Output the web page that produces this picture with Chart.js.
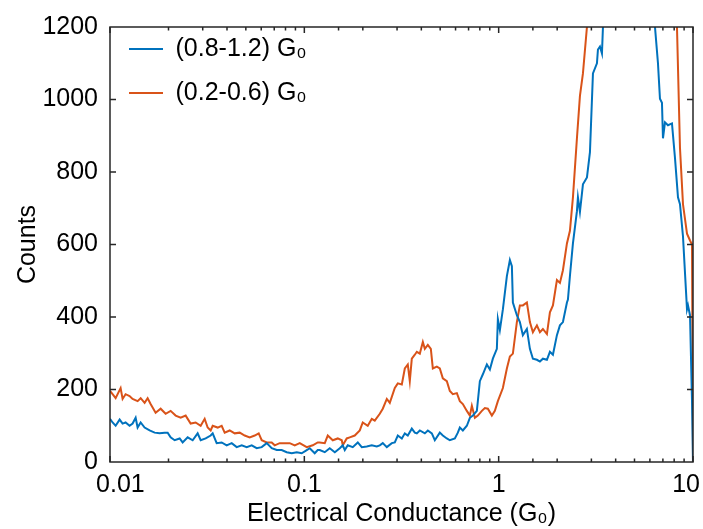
<!DOCTYPE html>
<html>
<head>
<meta charset="utf-8">
<script src="https://cdn.jsdelivr.net/npm/chart.js@4/dist/chart.umd.min.js"></script>
<style>
html,body{margin:0;padding:0;background:#fff;}
canvas{display:block;}
</style>
</head>
<body>
<canvas id="c" width="703" height="529"></canvas>
<script>
// Conductance (G0) and counts
const blueG = [0.01,0.01031,0.01069,0.01121,0.01161,0.01203,0.01261,0.01307,0.01355,0.01387,
0.01438,0.01507,0.01599,0.01697,0.018,0.0191,0.0198,0.02051,0.02151,0.02283,
0.02365,0.0251,0.02663,0.02825,0.02928,0.03107,0.03296,0.03376,0.03539,0.03755,
0.03985,0.04229,0.04487,0.04762,0.05052,0.0536,0.05687,0.06034,0.06404,0.06795,
0.0721,0.07647,0.08116,0.08614,0.09139,0.09697,0.1029,0.1066,0.1131,0.1172,
0.12,0.1274,0.1351,0.1435,0.1522,0.1577,0.1615,0.1673,0.1775,0.1884,
0.1975,0.2095,0.2224,0.2359,0.2445,0.2533,0.2657,0.2819,0.2921,0.3027,
0.3174,0.3289,0.3407,0.3573,0.3703,0.3792,0.3929,0.4169,0.432,0.4529,
0.4693,0.4979,0.516,0.5411,0.5607,0.595,0.6165,0.6313,0.6542,0.6859,
0.7109,0.7366,0.7723,0.8002,0.8293,0.8695,0.9011,0.9335,0.9788,0.9906,
1.0144,1.0511,1.1021,1.1421,1.1695,1.1835,1.2406,1.2857,1.3322,1.3969,
1.4478,1.5003,1.5731,1.6302,1.6892,1.7712,1.8354,1.9019,1.9941,2.0665,
2.1413,2.2453,2.2721,2.3265,2.4108,2.5278,2.5579,2.6195,2.7145,2.8463,
2.9493,3.0561,3.2042,3.2424,3.3202,3.4,3.4409,3.74,4.21,4.74,
5.33,6.0,6.373,6.603,6.761,6.923,7.006,7.174,7.434,7.795,
8.077,8.37,8.571,8.882,9.314,9.426,9.652,9.883,10.0];
const blueCounts = [119,109,100,117,106,109,100,106,122,95,
109,95,87,81,79,81,81,68,60,65,
54,68,60,79,60,65,73,79,52,54,
46,52,41,46,41,46,38,41,52,38,
33,33,27,24,27,24,33,38,24,33,
33,27,38,27,38,46,33,46,41,54,
41,43,46,43,46,52,41,52,54,73,
65,79,73,92,81,79,87,79,87,79,
60,81,73,65,60,65,81,95,87,100,
122,128,141,223,242,269,255,285,312,394,
364,421,513,557,540,440,405,386,350,367,
312,285,282,277,285,282,304,296,350,377,
386,440,448,513,603,692,730,690,766,785,
855,1072,1100,1138,1146,1127,1200,1400,1600,1700,
1650,1450,1200,1100,1002,991,893,937,929,934,
839,730,711,622,421,432,405,168,0];

const orangeG = [0.01,0.01031,0.01069,0.01134,0.01161,0.01203,0.01261,0.01307,0.01387,0.01438,
0.01507,0.01562,0.01618,0.01717,0.01822,0.01933,0.02051,0.02177,0.0231,0.02451,
0.026,0.02759,0.02928,0.0307,0.03181,0.03296,0.03376,0.03582,0.03755,0.03892,
0.04129,0.04382,0.0465,0.04934,0.05234,0.05554,0.05824,0.06034,0.06404,0.06795,
0.07041,0.07467,0.07926,0.08412,0.08925,0.0947,0.1029,0.1105,0.1172,0.12,
0.1274,0.132,0.1401,0.1486,0.1558,0.1577,0.1653,0.1713,0.1817,0.1929,
0.1998,0.212,0.2224,0.2304,0.2445,0.2533,0.2657,0.2753,0.2921,0.3027,
0.3174,0.3289,0.3407,0.3489,0.3573,0.3703,0.3792,0.3929,0.4072,0.4169,
0.432,0.4477,0.4584,0.4806,0.4979,0.516,0.5411,0.5607,0.581,0.6093,
0.6313,0.6542,0.6859,0.7109,0.7278,0.7543,0.7815,0.8194,0.8492,0.8797,
0.9226,0.9559,0.9906,1.0511,1.1021,1.1421,1.1835,1.2406,1.2857,1.3322,
1.3969,1.4478,1.5003,1.5731,1.6302,1.6892,1.7712,1.8354,1.9019,1.9941,
2.0665,2.1413,2.2453,2.3265,2.4108,2.5278,2.6195,2.7145,2.8463,3.2,
3.74,4.74,6.0,7.43,8.271,8.571,8.882,9.314,9.652,9.883,
10.0];
const orangeCounts = [196,187,176,204,174,187,182,174,168,176,
163,176,160,136,147,133,141,128,122,128,
106,109,100,119,95,87,100,95,100,81,
87,79,81,73,68,73,79,60,54,54,
46,52,52,52,46,52,41,46,54,54,
52,73,60,65,60,46,65,68,73,87,
109,100,119,114,133,147,174,163,204,217,
214,258,269,223,285,296,304,299,331,312,
323,312,258,263,258,231,223,196,187,190,
168,160,141,128,155,122,128,141,149,147,
128,141,168,204,258,291,299,386,432,432,
440,386,358,377,358,367,353,413,432,502,
494,529,603,638,730,893,1010,1072,1200,1500,
1900,2200,2100,1700,1200,866,711,630,611,600,
0];

const seriesLabels = ['(0.8-1.2) G\u2080', '(0.2-0.6) G\u2080'];
const xTickLabels = ['   0.01', '0.1', '1', '10  '];
const yTickStep = 200;

const FONT = "'Liberation Sans', Arial, Helvetica, sans-serif";
Chart.defaults.font.family = FONT;
Chart.defaults.font.size = 25;
Chart.defaults.color = '#000';

const AXIS = '#262626';

const boxPlugin = {
  id: 'boxTicks',
  afterLayout(chart) {
    const lg = chart.legend;
    if (lg) {
      const h = lg.bottom - lg.top;
      lg.top = chart.chartArea.top - 9.5;
      lg.bottom = lg.top + h;
    }
  },
  afterDatasetsDraw(chart) {
    const {ctx, chartArea: {left, right, top, bottom}, scales: {x, y}} = chart;
    ctx.save();
    ctx.strokeStyle = AXIS;
    ctx.lineWidth = 1.5;
    ctx.beginPath();
    y.ticks.forEach(t => {
      const py = y.getPixelForValue(t.value);
      if (py <= top + 1 || py >= bottom - 1) return;
      ctx.moveTo(left, py); ctx.lineTo(left + 6, py);
      ctx.moveTo(right, py); ctx.lineTo(right - 6, py);
    });
    x.ticks.forEach(t => {
      const px = x.getPixelForValue(t.value);
      const e = Math.log10(t.value);
      const major = Math.abs(e - Math.round(e)) < 1e-6;
      const len = major ? 6 : 3.5;
      ctx.moveTo(px, bottom); ctx.lineTo(px, bottom - len);
      ctx.moveTo(px, top); ctx.lineTo(px, top + len);
    });
    ctx.stroke();
    ctx.strokeRect(left, top, right - left, bottom - top);
    ctx.restore();
  }
};

new Chart(document.getElementById('c'), {
  type: 'line',
  data: {
    datasets: [
      {
        label: seriesLabels[0],
        data: blueG.map((g, i) => ({x: g, y: blueCounts[i]})),
        borderColor: '#0072BD', backgroundColor: '#0072BD',
        borderWidth: 2, pointRadius: 0, tension: 0, fill: false
      },
      {
        label: seriesLabels[1],
        data: orangeG.map((g, i) => ({x: g, y: orangeCounts[i]})),
        borderColor: '#D95319', backgroundColor: '#D95319',
        borderWidth: 2, pointRadius: 0, tension: 0, fill: false
      }
    ]
  },
  options: {
    responsive: false,
    animation: false,
    devicePixelRatio: 1,
    layout: {padding: {left: 0, right: 10, top: 20, bottom: 0}},
    scales: {
      x: {
        type: 'logarithmic',
        min: 0.01, max: 10,
        grid: {display: false, drawTicks: false},
        border: {display: false},
        ticks: {
          autoSkip: false, maxRotation: 0, minRotation: 0, padding: 8,
          color: '#000',
          callback(v) {
            const e = Math.log10(v);
            const r = Math.round(e);
            return Math.abs(e - r) < 1e-6 ? xTickLabels[r + 2] : '';
          }
        },
        title: {display: true, text: 'Electrical Conductance (G\u2080)', color: '#000', padding: 0},
        afterFit(s) { s.height = 67; s.paddingLeft = 0; s.paddingRight = 0; }
      },
      y: {
        type: 'linear',
        min: 0, max: 1200,
        grid: {display: false, drawTicks: false},
        border: {display: false},
        ticks: {stepSize: yTickStep, padding: 12, color: '#000', callback: v => String(v)},
        title: {display: true, text: 'Counts', color: '#000', padding: 13},
        afterFit(s) { s.width = 110; }
      }
    },
    plugins: {
      legend: {
        position: 'chartArea',
        align: 'start',
        labels: {
          usePointStyle: true,
          pointStyle: 'line',
          pointStyleWidth: 34,
          boxWidth: 34,
          padding: 19,
          color: '#000',
          font: {size: 25}
        }
      },
      tooltip: {enabled: false}
    }
  },
  plugins: [boxPlugin]
});
</script>
</body>
</html>
